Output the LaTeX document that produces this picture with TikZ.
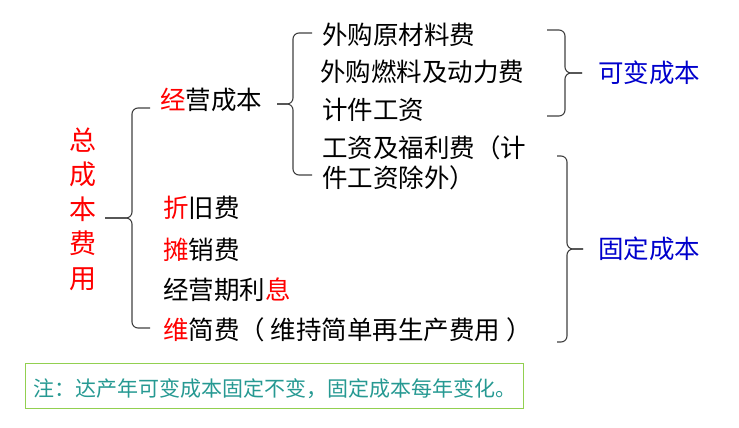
\documentclass[tikz,border=0pt]{standalone}
\usepackage{fontspec}
\setmainfont{Noto Sans CJK SC}
\usetikzlibrary{positioning}
\definecolor{costred}{RGB}{255,0,0}
\definecolor{costblue}{RGB}{0,0,204}
\definecolor{noteteal}{RGB}{38,153,146}
\definecolor{notegreen}{RGB}{146,208,80}
\definecolor{bracegray}{RGB}{64,64,64}

\begin{document}
\begin{tikzpicture}[x=1pt, y=-1pt,
  item/.style={anchor=base west, inner sep=0pt, font=\fontsize{25.5}{30}\selectfont},
  head/.style={item, anchor=center, align=center, text=costred, font=\fontsize{27}{34.5}\selectfont},
  kind/.style={item, text=costblue},
  brace/.style={draw=bracegray, line width=1.1pt, rounded corners=6pt},
  notebox/.style={draw=notegreen, line width=1pt, anchor=north west, text width=482pt, inner xsep=8pt, inner ysep=0pt, minimum height=45pt, align=left, text=noteteal, font=\fontsize{21}{24}\selectfont}
]
\useasboundingbox (0,0) rectangle (739,428);

% total cost and its parts
\node[head] (total) at (83,209) {总\\成\\本\\费\\用};
\node[item] (jy) at (160,109.5) {\textcolor{costred}{经}营成本};
\node[item] (zj) at (163,217.5) {\textcolor{costred}{折}旧费};
\node[item] (tx) at (163,259.5) {\textcolor{costred}{摊}销费};
\node[item] (lx) at (163,299.5) {经营期利\textcolor{costred}{息}};
\node[item] (wj) at (163,339.5) {\textcolor{costred}{维}简费（ 维持简单再生产费用 ）};

% operating cost items
\node[item] (wg1) at (322,44.5) {外购原材料费};
\node[item] (wg2) at (320,81.5) {外购燃料及动力费};
\node[item] (jj) at (322,119.5) {计件工资};
\node[item, anchor=west, align=left] (gz) at (322,163) {工资及福利费（计\\件工资除外）};

% braces
\coordinate (b1t) at (150,108);
\coordinate (b1b) at (150,328);
\coordinate (b1m) at (132,218);
\coordinate (b1p) at (105,218);
\coordinate (b2t) at (312,33);
\coordinate (b2b) at (312,175);
\coordinate (b2m) at (293,104);
\coordinate (b2p) at (277,104);
\coordinate (b3t) at (547,30);
\coordinate (b3b) at (547,116);
\coordinate (b3m) at (565,73);
\coordinate (b3p) at (582,73);
\coordinate (b4t) at (557,156);
\coordinate (b4b) at (557,342);
\coordinate (b4m) at (567,249);
\coordinate (b4p) at (583,249);

\draw[brace] (b1t) -| (b1m) -- (b1p);
\draw[brace] (b1b) -| (b1m) -- (b1p);
\draw[brace] (b2t) -| (b2m) -- (b2p);
\draw[brace] (b2b) -| (b2m) -- (b2p);
\draw[brace] (b3t) -| (b3m) -- (b3p);
\draw[brace] (b3b) -| (b3m) -- (b3p);
\draw[brace] (b4t) -| (b4m) -- (b4p);
\draw[brace] (b4b) -| (b4m) -- (b4p);

\node[kind, right=16pt of b3p] (var) {可变成本};
\node[kind, right=15pt of b4p] (fix) {固定成本};

% note
\node[notebox] (note) at (25,363) {\raisebox{-3pt}[18pt][3pt]{注：达产年可变成本固定不变，固定成本每年变化。}};
\end{tikzpicture}
\end{document}
